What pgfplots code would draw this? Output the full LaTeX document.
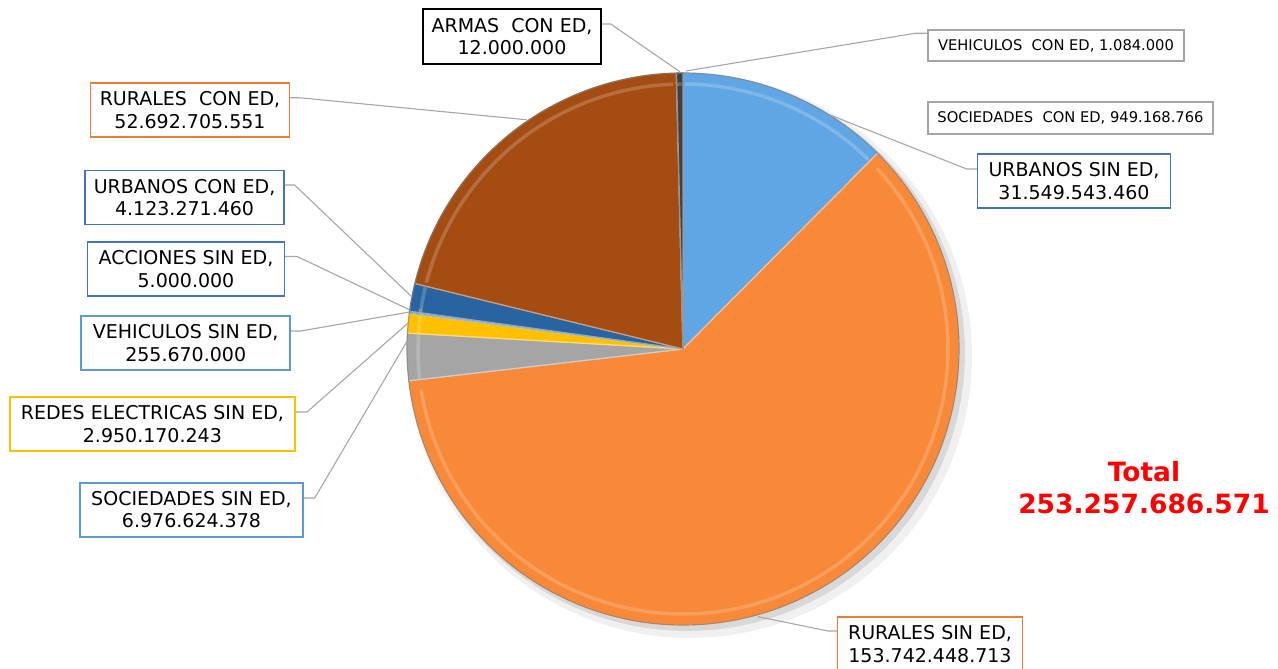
\documentclass[border=0pt]{standalone}
\usepackage{fontspec}
\setmainfont{DejaVu Sans}
\usepackage{pgfplots}
\usepackage{pgfplotstable}
\pgfplotsset{compat=1.18}

\definecolor{slice0}{HTML}{60A6E4}
\definecolor{slice1}{HTML}{F78939}
\definecolor{slice2}{HTML}{A5A5A5}
\definecolor{slice3}{HTML}{FFC000}
\definecolor{slice4}{HTML}{4472C4}
\definecolor{slice5}{HTML}{70AD47}
\definecolor{slice6}{HTML}{2A64A0}
\definecolor{slice7}{HTML}{A44C12}
\definecolor{slice8}{HTML}{333333}
\definecolor{slice9}{HTML}{997300}
\definecolor{slice10}{HTML}{404040}
\definecolor{bxblue}{HTML}{4472C4}
\definecolor{bxlight}{HTML}{5B9BD5}
\definecolor{bxorange}{HTML}{ED7D31}
\definecolor{bxyellow}{HTML}{FFC000}
\definecolor{bxgray}{HTML}{A5A5A5}
\definecolor{leadgray}{HTML}{A6A6A6}

\pgfplotstableread[col sep=comma]{
label,value
URBANOS SIN ED,31549543460
RURALES SIN ED,153742448713
SOCIEDADES SIN ED,6976624378
REDES ELECTRICAS SIN ED,2950170243
VEHICULOS SIN ED,255670000
ACCIONES SIN ED,5000000
URBANOS CON ED,4123271460
RURALES CON ED,52692705551
ARMAS CON ED,12000000
VEHICULOS CON ED,1084000
SOCIEDADES CON ED,949168766
}\piedata

% total
\def\cumsum{0}
\pgfplotsforeachungrouped \i in {0,...,10}{%
  \pgfplotstablegetelem{\i}{value}\of\piedata
  \xdef\cumsum{\fpeval{\cumsum+\pgfplotsretval}}%
}
\xdef\total{\cumsum}
% angles (clockwise from 12 o'clock)
\def\cumsum{0}
\pgfplotsforeachungrouped \i in {0,...,10}{%
  \pgfplotstablegetelem{\i}{value}\of\piedata
  \expandafter\xdef\csname angA\i\endcsname{\fpeval{round(360*\cumsum/\total,4)}}%
  \xdef\cumsum{\fpeval{\cumsum+\pgfplotsretval}}%
  \expandafter\xdef\csname angB\i\endcsname{\fpeval{round(360*\cumsum/\total,4)}}%
  \expandafter\xdef\csname angD\i\endcsname{\fpeval{\csname angB\i\endcsname-\csname angA\i\endcsname}}%
}

\tikzset{
  lbl/.style={draw, fill=white, line width=1.6bp, inner sep=0pt, align=center,
    font=\fontsize{19bp}{22.3bp}\selectfont},
  slbl/.style={draw, fill=white, line width=1.6bp, inner sep=0pt, align=center,
    font=\fontsize{14.7bp}{17bp}\selectfont},
}

\begin{document}
\begin{tikzpicture}
\begin{axis}[
  hide axis, scale only axis,
  width=1278bp, height=669bp,
  xmin=0, xmax=1278, ymin=0, ymax=669,
  clip=false, no markers,
  leader/.style={draw=leadgray, line width=1.1bp},
]
% soft shadow
\addplot[draw=none, fill=black, fill opacity=0.06, domain=0:360, samples=181]
  ({690+282*sin(x)},{313+282*cos(x)}) -- cycle;
\addplot[draw=none, fill=black, fill opacity=0.10, domain=0:360, samples=181]
  ({687+278*sin(x)},{316+278*cos(x)}) -- cycle;
% slices
\pgfplotsforeachungrouped \i in {0,...,10}{%
  \edef\cmd{\noexpand\addplot[draw=slice\i!55!white, line width=1.2bp, line join=round,
     fill=slice\i, domain=0:1, samples=121]
     ({683+276*sin(\csname angA\i\endcsname+x*\csname angD\i\endcsname)},%
      {320+276*cos(\csname angA\i\endcsname+x*\csname angD\i\endcsname)})
     -- (axis cs:683,320) -- cycle;}%
  \cmd
}
% bevel highlight band near the rim
\pgfplotsforeachungrouped \i in {0,...,10}{%
  \edef\cmd{\noexpand\addplot[draw=slice\i!65!white, draw opacity=0.55, line width=3.5bp,
     domain=0.01:0.99, samples=121]
     ({683+265*sin(\csname angA\i\endcsname+x*\csname angD\i\endcsname)},%
      {320+265*cos(\csname angA\i\endcsname+x*\csname angD\i\endcsname)});}%
  \cmd
}
% rim
\addplot[draw=black, draw opacity=0.3, line width=1.2bp, domain=0:360, samples=181]
  ({683+276*sin(x)},{320+276*cos(x)});

% leader lines
\addplot[leader] coordinates {(599.5,645) (610.7,645) (680,597.2)};
\addplot[leader] coordinates {(928.3,635.7) (915,635.7) (686,598)};
\addplot[leader] coordinates {(289.3,571.2) (300,571.2) (526.8,549.2)};
\addplot[leader] coordinates {(284,484) (294.6,484) (412,372)};
\addplot[leader] coordinates {(284.4,412.5) (297,412.5) (410,359)};
\addplot[leader] coordinates {(290,338) (301,338) (409.5,357)};
\addplot[leader] coordinates {(295,257) (307,257) (408.2,346)};
\addplot[leader] coordinates {(303,171) (314.7,171) (407.2,328)};
\addplot[leader] coordinates {(977.7,500) (966.7,500) (830,554)};
\addplot[leader] coordinates {(837.7,38) (828,38) (758,52.3)};

% labels
\node[lbl, draw=black, line width=2.2bp, minimum width=178bp, minimum height=55bp] at (axis cs:512,632.3) {ARMAS\ \ CON ED,\\12.000.000};
\node[slbl, draw=bxgray, minimum width=256bp, minimum height=31bp] at (axis cs:1056,623.5) {VEHICULOS\ \ CON ED, 1.084.000};
\node[slbl, draw=bxgray, minimum width=285bp, minimum height=32bp] at (axis cs:1070.5,551) {SOCIEDADES\ \ CON ED, 949.168.766};
\node[lbl, draw=bxblue, minimum width=193bp, minimum height=54bp] at (axis cs:1074,488) {URBANOS SIN ED,\\31.549.543.460};
\node[lbl, draw=bxorange, minimum width=185bp, minimum height=54bp] at (axis cs:930,25) {RURALES SIN ED,\\153.742.448.713};
\node[lbl, draw=bxorange, minimum width=199bp, minimum height=54bp] at (axis cs:190,559) {RURALES\ \ CON ED,\\52.692.705.551};
\node[lbl, draw=bxblue, minimum width=199bp, minimum height=54bp] at (axis cs:184.6,471.6) {URBANOS CON ED,\\4.123.271.460};
\node[lbl, draw=bxblue, minimum width=197bp, minimum height=54bp] at (axis cs:186,400) {ACCIONES SIN ED,\\5.000.000};
\node[lbl, draw=bxlight, minimum width=209bp, minimum height=54bp] at (axis cs:185.7,326) {VEHICULOS SIN ED,\\255.670.000};
\node[lbl, draw=bxyellow, minimum width=285bp, minimum height=54bp] at (axis cs:152.4,245) {REDES ELECTRICAS SIN ED,\\2.950.170.243};
\node[lbl, draw=bxlight, minimum width=223bp, minimum height=54bp] at (axis cs:191.5,159.2) {SOCIEDADES SIN ED,\\6.976.624.378};

% total
\node[text=red, font=\bfseries\fontsize{26.5bp}{32bp}\selectfont, align=center] at (axis cs:1144,181) {Total\\253.257.686.571};
\end{axis}
\pgfresetboundingbox
\path[use as bounding box] (0,0) rectangle (1278bp,669bp);
\end{tikzpicture}
\end{document}
